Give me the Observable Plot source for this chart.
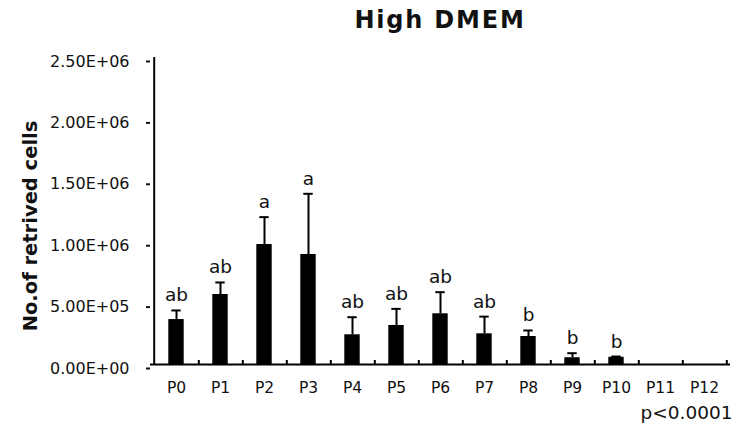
<!DOCTYPE html>
<html>
<head>
<meta charset="utf-8">
<script src="https://cdn.jsdelivr.net/npm/d3@7"></script>
<script src="https://cdn.jsdelivr.net/npm/@observablehq/plot@0.6"></script>
<style>
  html, body { margin: 0; padding: 0; background: #fff; }
  #title {
    box-sizing: border-box;
    width: 747px; height: 40px; line-height: 40px;
    padding-left: 150px; padding-right: 17px;
    text-align: center;
    font-family: "DejaVu Sans", sans-serif;
    font-weight: bold; font-size: 24px; letter-spacing: 1.8px;
    color: #111;
  }
</style>
</head>
<body>
<div id="title">High DMEM</div>
<div id="chart"></div>
<script>
const categories = ["P0","P1","P2","P3","P4","P5","P6","P7","P8","P9","P10","P11","P12"];
const means  = [3.66e5, 5.70e5, 9.77e5, 8.96e5, 2.42e5, 3.18e5, 4.13e5, 2.50e5, 2.28e5, 5.5e4, 5.9e4, 0, 0];
const errors = [7.4e4, 9.8e4, 2.23e5, 4.94e5, 1.43e5, 1.35e5, 1.76e5, 1.40e5, 4.9e4, 3.7e4, 6e3, 0, 0];
const letters = ["ab","ab","a","a","ab","ab","ab","ab","b","b","b","",""];
const yTicks = [0, 5e5, 1e6, 1.5e6, 2e6, 2.5e6];
const yLabel = "No.of retrived cells";
const note = "p<0.0001";

const data = categories.map((c, i) => ({cat: c, mean: means[i], top: means[i] + errors[i], letter: letters[i]}));

const W = 747, H = 389, ML = 150, MR = 17, MT = 17, MB = 65;
const step = (W - ML - MR) / categories.length;
const frameH = H - MT - MB;
const barInset = (step - 16) / 2;
const capInset = (step - 10) / 2;

const fmtE = d => {
  const [m, e] = d.toExponential(2).toUpperCase().split("E");
  const n = +e;
  return m + "E" + (n < 0 ? "-" : "+") + String(Math.abs(n)).padStart(2, "0");
};

const chart = Plot.plot({
  width: W, height: H,
  marginLeft: ML, marginRight: MR, marginTop: MT, marginBottom: MB,
  style: {fontFamily: "DejaVu Sans, sans-serif", fontSize: "16px", color: "#111", background: "#fff"},
  x: {type: "band", domain: categories, padding: 0, label: null},
  y: {domain: [0, 2.5e6], label: null},
  marks: [
    Plot.axisY({ticks: yTicks, tickFormat: fmtE, tickSize: 4, tickPadding: 17, strokeWidth: 2, fontSize: 16, dy: 4, label: null}),
    Plot.axisX({tickSize: 0, tickPadding: 17, fontSize: 15.5, label: null}),
    Plot.barY(data, {x: "cat", y: "mean", fill: "#000", insetLeft: barInset, insetRight: barInset}),
    Plot.ruleX(data.filter(d => d.top > d.mean), {x: "cat", y1: "mean", y2: "top", stroke: "#000", strokeWidth: 2}),
    Plot.tickY(data.filter(d => d.top > d.mean), {x: "cat", y: "top", stroke: "#000", strokeWidth: 2, insetLeft: capInset, insetRight: capInset}),
    Plot.text(data, {x: "cat", y: "top", text: "letter", lineAnchor: "bottom", dy: -9, fontSize: 18.5, fill: "#111"}),
    Plot.ruleY([0], {stroke: "#000", strokeWidth: 2}),
    Plot.ruleX(categories.slice(0, 1), {dx: -step / 2, stroke: "#000", strokeWidth: 2}),
    Plot.ruleX(categories, {dx: step / 2, insetTop: frameH - 4, stroke: "#000", strokeWidth: 2}),
    Plot.text([yLabel], {frameAnchor: "left", textAnchor: "middle", rotate: -90, dx: -120, dy: 15, fontWeight: "bold", fontSize: 19.5, fill: "#111"}),
    Plot.text([note], {frameAnchor: "bottom-right", textAnchor: "end", lineAnchor: "bottom", dx: 2, dy: 54, fontSize: 18.5, fill: "#111"})
  ]
});
document.getElementById("chart").appendChild(chart);
</script>
</body>
</html>
